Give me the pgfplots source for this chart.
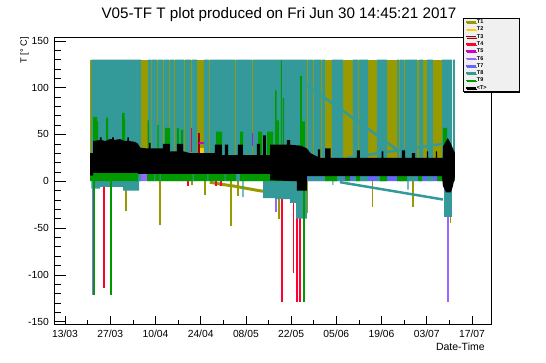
\documentclass[border=0pt]{standalone}
\usepackage{pgfplots}
\pgfplotsset{compat=1.18}
\usepackage{fontspec}
\setmainfont{Liberation Sans}
\usetikzlibrary{shadows}
\definecolor{cTa}{HTML}{999900}
\definecolor{cTb}{HTML}{FFCC00}
\definecolor{cTc}{HTML}{990000}
\definecolor{cTd}{HTML}{FF0033}
\definecolor{cTe}{HTML}{CC00CC}
\definecolor{cTf}{HTML}{9966FF}
\definecolor{cTg}{HTML}{6666FF}
\definecolor{cTh}{HTML}{339999}
\definecolor{cTi}{HTML}{009900}
\definecolor{legbg}{HTML}{F0F0F0}
\begin{document}
\begin{tikzpicture}[x=1pt,y=1pt]
\path[use as bounding box] (0,0) rectangle (546,362);
\begin{axis}[
  at={(54pt,38pt)}, anchor=south west,
  scale only axis, width=437pt, height=287pt,
  xmin=-3.41, xmax=131.89, ymin=-152.5, ymax=154.1,
  axis line style={line width=0.8pt},
  xtick={0,14,28,42,56,70,84,98,112,126},
  xticklabels={13/03,27/03,10/04,24/04,08/05,22/05,05/06,19/06,03/07,17/07},
  minor x tick num=1,
  ytick={-150,-100,-50,0,50,100,150},
  minor y tick num=4,
  xtick pos=left, ytick pos=left,
  tick align=inside,
  tick style={black, line width=0.6pt},
  xtick style={/pgfplots/major tick length=8pt,/pgfplots/minor tick length=4pt},
  ytick style={/pgfplots/major tick length=12pt,/pgfplots/minor tick length=6.5pt},
  /pgf/number format/assume math mode=true,
  ticklabel style={font=\fontsize{10.3}{12}\selectfont},
  yticklabel style={inner sep=0pt, xshift=-5pt},
  xticklabel style={inner sep=0pt, yshift=-6pt},
  xlabel={Date-Time},
  xlabel style={at={(rel axis cs:0.986,0)}, anchor=base east, yshift=-26.7pt, inner sep=0pt, font=\fontsize{10.5}{12}\selectfont},
  ylabel={T [° C]},
  ylabel style={at={(rel axis cs:-0.062,1.0)}, anchor=base east, inner sep=0pt, font=\fontsize{9.2}{11}\selectfont},
  legend style={at={(rel axis cs:0.9359,1.0662)}, anchor=north west, fill=legbg, draw=black, line width=0.6pt,
    inner xsep=2pt, inner ysep=1pt, font=\fontsize{5.5}{6}\selectfont\bfseries, row sep=1.8pt,
    nodes={inner sep=0pt, text height=4.3pt, text depth=1.2pt},
    cells={anchor=west},
    general shadow={fill=black, shadow xshift=1.2pt, shadow yshift=-1.2pt}},
  legend image code/.code={\draw[#1, line width=1.6pt] (0pt,0pt) -- (10pt,0pt);},
  unbounded coords=jump,
]
\addlegendimage{cTa}\addlegendentry{\makebox[40pt][l]{T1}}
\addlegendimage{cTb}\addlegendentry{\makebox[40pt][l]{T2}}
\addlegendimage{cTc}\addlegendentry{\makebox[40pt][l]{T3}}
\addlegendimage{cTd}\addlegendentry{\makebox[40pt][l]{T4}}
\addlegendimage{cTe}\addlegendentry{\makebox[40pt][l]{T5}}
\addlegendimage{cTf}\addlegendentry{\makebox[40pt][l]{T6}}
\addlegendimage{cTg}\addlegendentry{\makebox[40pt][l]{T7}}
\addlegendimage{cTh}\addlegendentry{\makebox[40pt][l]{T8}}
\addlegendimage{cTi}\addlegendentry{\makebox[40pt][l]{T9}}
\addlegendimage{black}\addlegendentry{\makebox[40pt][l]{<T>}}

% ---------- T1 ----------
\addplot[fill=cTa, draw=none, forget plot] coordinates {(7.74,0)(7.74,130)(119.81,130)(119.81,0)};
\addplot[cTa, line width=3pt, forget plot] coordinates {(44.8,-1)(48,-3)(52,-5)(56,-7.5)(60,-10)(63,-11.5)(65.6,-12.8)};
\addplot[cTa, line width=1.6pt, forget plot] coordinates {
(18.89,0)(18.89,-31.7)(nan,nan)(29.41,0)(29.41,-46.3)(nan,nan)(39.23,0)(39.23,-4)(nan,nan)
(43.34,0)(43.34,-14.6)(nan,nan)(51.39,0)(51.39,-47.8)(nan,nan)(53.65,0)(53.65,-15.7)(nan,nan)
(61.92,0)(61.92,-17.5)(nan,nan)(63.99,0)(63.99,-16)(nan,nan)(66.25,0)(66.25,-40.3)(nan,nan)
(74.83,0)(74.83,-34)(nan,nan)(95.14,0)(95.14,-27)(nan,nan)(107.83,0)(107.83,-28)(nan,nan)
(119.41,0)(119.41,-45)};
% ---------- T2 ----------
\addplot[cTb, line width=2pt, forget plot] coordinates {(42.2,30)(42.2,36)(nan,nan)(42.8,30)(42.8,35)};
% ---------- T3 ----------
\addplot[cTc, line width=1.2pt, forget plot] coordinates {(41.49,30)(41.49,52)};
% ---------- T4 ----------
\addplot[cTd, line width=1.2pt, forget plot] coordinates {(39.15,31)(39.15,57)};
\addplot[cTd, line width=1.8pt, forget plot] coordinates {
(12.17,0)(12.17,-113.6)(nan,nan)(67.09,0)(67.09,-128.6)(nan,nan)(70.77,0)(70.77,-97.6)(nan,nan)
(71.73,0)(71.73,-128.6)(nan,nan)(72.76,0)(72.76,-128.6)(nan,nan)(38.08,0)(38.08,-4.7)(nan,nan)
(46.75,0)(46.75,-5)(nan,nan)(48.2,0)(48.2,-4.7)};
% ---------- T5 ----------
\addplot[cTe, line width=1.5pt, forget plot] coordinates {(8.36,3)(8.36,14)(nan,nan)(58.05,38)(58.05,52)};
\addplot[cTe, line width=2.5pt, forget plot] coordinates {(41.6,41)(43.0,41)};
% ---------- T6 ----------
\addplot[cTf, line width=1.8pt, forget plot] coordinates {
(8.55,0)(8.55,-121)(nan,nan)(65.23,0)(65.23,-32.5)(nan,nan)(118.48,0)(118.48,-128.6)};
\addplot[fill=cTf, draw=none, forget plot] coordinates {
(22.6,0)(22.6,12)(25.4,12)(25.4,0)(nan,nan)(27.7,0)(27.7,12)(28.0,12)(28.0,0)(nan,nan)
(39.5,0)(39.5,12)(39.8,12)(39.8,0)(nan,nan)(44.1,0)(44.1,12)(44.4,12)(44.4,0)(nan,nan)
(49.4,0)(49.4,12)(49.7,12)(49.7,0)};
% ---------- T7 ----------
\addplot[fill=cTg, draw=none, forget plot] coordinates {
(74.92,0)(74.92,5.6)(117.65,5.6)(117.65,0)(nan,nan)(29.3,0)(29.3,12)(29.6,12)(29.6,0)(nan,nan)
(52.9,0)(52.9,12)(54.2,12)(54.2,0)};
% ---------- T8 ----------
\addplot[fill=cTh, draw=none, forget plot] coordinates {
(8.2,-8)(8.2,130)(10.84,130)(10.84,-8)(nan,nan)
(10.84,-6)(10.84,130)(17.96,130)(17.96,-6)(nan,nan)
(17.96,-10)(17.96,130)(22.91,130)(22.91,-10)(nan,nan)
(22.91,0)(22.91,130)(23.53,130)(23.53,0)(nan,nan)
(25.7,0)(25.7,130)(26.63,130)(26.63,0)(nan,nan)
(26.93,0)(26.93,130)(28.48,130)(28.48,0)(nan,nan)
(28.79,0)(28.79,130)(30.34,130)(30.34,0)(nan,nan)
(30.65,0)(30.65,130)(32.2,130)(32.2,0)(nan,nan)
(32.51,0)(32.51,130)(33.75,130)(33.75,0)(nan,nan)
(34.06,0)(34.06,130)(36.84,130)(36.84,0)(nan,nan)
(37.15,0)(37.15,130)(39.0,130)(39.0,0)(nan,nan)
(39.32,0)(39.32,130)(40.87,130)(40.87,0)(nan,nan)
(43.03,0)(43.03,130)(44.58,130)(44.58,0)(nan,nan)
(44.89,0)(44.89,130)(52.63,130)(52.63,0)(nan,nan)
(52.94,0)(52.94,130)(57.89,130)(57.89,0)(nan,nan)
(58.2,0)(58.2,130)(61.3,130)(61.3,0)(nan,nan)
(61.3,-18)(61.3,130)(65.02,130)(65.02,-18)(nan,nan)
(65.02,-19)(65.02,130)(69.66,130)(69.66,-19)(nan,nan)
(69.66,-23)(69.66,130)(71.52,130)(71.52,-23)(nan,nan)
(71.52,-40)(71.52,130)(74.92,130)(74.92,-40)(nan,nan)
(75.23,0)(75.23,130)(76.78,130)(76.78,0)(nan,nan)
(77.09,0)(77.09,130)(79.26,130)(79.26,0)(nan,nan)
(79.57,0)(79.57,130)(80.5,130)(80.5,0)(nan,nan)
(82.66,0)(82.66,130)(86.07,130)(86.07,0)(nan,nan)
(89.16,0)(89.16,130)(90.71,130)(90.71,0)(nan,nan)
(91.02,0)(91.02,130)(93.81,130)(93.81,0)(nan,nan)
(96.59,0)(96.59,130)(99.69,130)(99.69,0)(nan,nan)
(102.79,0)(102.79,130)(103.41,130)(103.41,0)(nan,nan)
(103.72,0)(103.72,130)(104.95,130)(104.95,0)(nan,nan)
(105.26,0)(105.26,130)(108.98,130)(108.98,0)(nan,nan)
(109.6,0)(109.6,130)(110.84,130)(110.84,0)(nan,nan)
(112.07,0)(112.07,130)(113.93,130)(113.93,0)(nan,nan)
(116.72,0)(116.72,130)(117.34,130)(117.34,0)(nan,nan)
(117.34,-38)(117.34,130)(119.81,130)(119.81,-38)(nan,nan)
(120.12,0)(120.12,130)(120.74,130)(120.74,0)(nan,nan)
(54.9,-17)(54.9,0)(55.3,0)(55.3,-17)(nan,nan)
(82.8,-4)(82.8,0)(83.1,0)(83.1,-4)(nan,nan)
(106.0,-9)(106.0,0)(106.4,0)(106.4,-9)};
\addplot[cTh, line width=2.5pt, forget plot] coordinates {
(72.76,108)(76,100)(80,90)(84,80.3)(88,70.4)(92,60.5)(96,50.6)(100,40.7)(103.1,33)(nan,nan)
(87.3,25)(117.03,40)(nan,nan)
(85.14,-1)(117.03,-19.5)};
% ---------- T9 ----------
\addplot[fill=cTi, draw=none, forget plot] coordinates {
(7.74,0)(7.74,6)(8.67,6)(8.67,0)(nan,nan)
(8.67,0)(8.67,11)(22.6,11)(22.6,0)(nan,nan)
(25.4,0)(25.4,11)(27.7,11)(27.7,0)(nan,nan)
(28.0,0)(28.0,11)(29.3,11)(29.3,0)(nan,nan)
(29.6,0)(29.6,11)(39.5,11)(39.5,0)(nan,nan)
(39.8,0)(39.8,11)(44.1,11)(44.1,0)(nan,nan)
(44.4,0)(44.4,11)(49.4,11)(49.4,0)(nan,nan)
(49.7,0)(49.7,11)(52.9,11)(52.9,0)(nan,nan)
(54.2,0)(54.2,11)(74.92,11)(74.92,0)(nan,nan)
(80.5,0)(80.5,5.6)(84.2,5.6)(84.2,0)(nan,nan)
(86.7,0)(86.7,5.6)(88.2,5.6)(88.2,0)(nan,nan)
(90.1,0)(90.1,5.6)(91.3,5.6)(91.3,0)(nan,nan)
(97.5,0)(97.5,5.6)(99.7,5.6)(99.7,0)(nan,nan)
(102.8,0)(102.8,5.6)(105.9,5.6)(105.9,0)(nan,nan)
(109.3,0)(109.3,5.6)(110.5,5.6)(110.5,0)(nan,nan)
(115.2,0)(115.2,5.6)(117.0,5.6)(117.0,0)(nan,nan)
(117.65,0)(117.65,10)(120.74,10)(120.74,0)(nan,nan)
(8.67,0)(8.67,68.7)(9.91,68.7)(9.91,0)(nan,nan)
(9.91,0)(9.91,64)(10.22,64)(10.22,0)(nan,nan)
(12.69,0)(12.69,68)(13.31,68)(13.31,0)(nan,nan)
(17.65,0)(17.65,73)(18.42,73)(18.42,0)(nan,nan)
(18.42,0)(18.42,67)(18.58,67)(18.58,0)(nan,nan)
(25.54,0)(25.54,65)(26.0,65)(26.0,0)(nan,nan)
(28.6,0)(28.6,60)(28.95,60)(28.95,0)(nan,nan)
(30.96,0)(30.96,57)(32.51,57)(32.51,0)(nan,nan)
(34.67,0)(34.67,57)(35.29,57)(35.29,0)(nan,nan)
(35.91,0)(35.91,55)(36.53,55)(36.53,0)(nan,nan)
(46.75,0)(46.75,53)(48.61,53)(48.61,0)(nan,nan)
(54.18,0)(54.18,53)(55.11,53)(55.11,0)(nan,nan)
(59.75,0)(59.75,53)(60.99,53)(60.99,0)(nan,nan)
(62.54,0)(62.54,53)(64.4,53)(64.4,0)(nan,nan)
(65.02,0)(65.02,97)(65.48,97)(65.48,0)(nan,nan)
(65.63,0)(65.63,65)(66.25,65)(66.25,0)(nan,nan)
(66.87,0)(66.87,129)(67.18,129)(67.18,0)(nan,nan)
(67.49,0)(67.49,89)(67.8,89)(67.8,0)(nan,nan)
(72.76,0)(72.76,112.5)(73.37,112.5)(73.37,0)(nan,nan)
(73.37,0)(73.37,64)(74.3,64)(74.3,0)(nan,nan)
(117.03,0)(117.03,57)(118.27,57)(118.27,0)};
\addplot[cTi, line width=2pt, forget plot] coordinates {
(9.1,0)(9.1,-121)(nan,nan)(14.15,0)(14.15,-121)(nan,nan)(73.84,0)(73.84,-128.6)};
% ---------- <T> ----------
\addplot[fill=black, draw=none, forget plot] coordinates {
(7.74,6)(7.74,30)(8.67,30)(8.67,43)(10.8,44)(10.8,47)(11.3,47)(11.3,44)(12.5,43)(13.9,45)(14.6,45)(14.6,47)(15.1,47)(15.1,44)
(17.0,45)(18.5,43)(19.3,43)(19.3,47)(19.8,47)(19.8,43)(21.7,42)(22.6,40)(23.2,36)(25.4,35)(26.0,35)(26.0,41)(26.5,41)(26.5,35)
(29.4,35)(30.3,35)(30.3,40)(32.5,40)(32.5,32)(34.6,32)(34.6,40)(36.6,40)(36.6,32)(38.7,30)(46.4,30)(46.4,39)(48.6,39)(48.6,28)
(49.5,28)(49.5,39)(50.5,39)(50.5,28)(53.5,28)(53.5,39)(55.1,39)(55.1,28)(59.4,28)(59.4,40)(60.4,40)(60.4,28)(61.3,28)(61.3,49)
(62.2,49)(62.2,28)(63.5,28)(63.5,39)(68.7,39)(68.7,44)(69.7,44)(69.7,39)(73.0,38)(74.9,35)(76.0,30)(78.3,26)(78.3,34)(79.0,34)
(79.0,25)(80.5,25)(80.5,35)(82.2,35)(82.2,25)(90.4,25)(90.4,33)(91.3,33)(91.3,25)(98.0,25)(98.0,32)(98.6,32)(98.6,25)(104.3,25)
(104.3,33)(105.3,33)(105.3,25)(107.4,25)(107.4,30)(108.4,30)(108.4,25)(112.0,25)(112.0,32)(112.4,32)(112.4,25)(114.8,25)(114.8,32)
(115.2,32)(115.2,25)(117.0,25)(117.0,37)(118.5,46)(119.5,40)(120.1,35)(120.74,30)
(120.74,5)(120.1,-5)(119.5,-12)(118.0,-12)(117.0,-5)(116.7,5.6)(74.9,5.6)(74.9,-10)(71.8,-10)(71.8,0)(63.5,1)(63.5,8)(22.6,8)
(22.6,9)(8.67,9)(8.67,6)};
\end{axis}
\node[anchor=base, font=\fontsize{15.2}{18}\selectfont, inner sep=0pt] at (279,343.7) {V05-TF T plot produced on Fri Jun 30 14:45:21 2017};
\end{tikzpicture}
\end{document}
